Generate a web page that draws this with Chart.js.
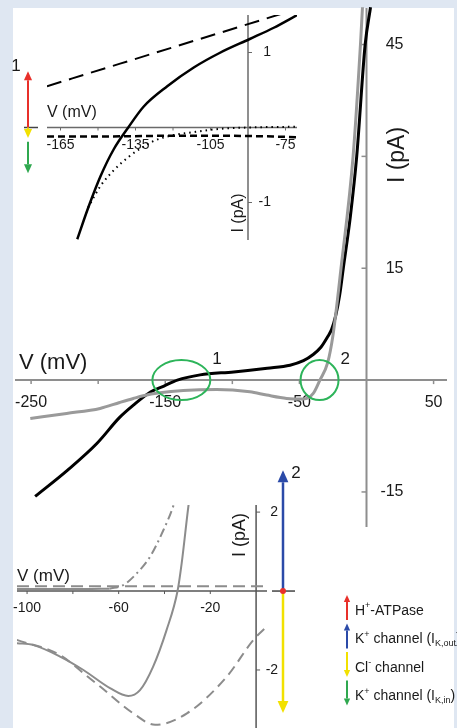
<html>
<head>
  <meta name="viewport" content="width=device-width, initial-scale=1">
  <script type="text/javascript" src="https://cdn.jsdelivr.net/npm/chart.js@4/dist/chart.umd.min.js"></script>
  <style>
    body { margin: 0; background: #dfe7f2; }
    #wrap { position: relative; width: 457px; height: 728px; overflow: hidden; }
    #panel { position: absolute; left: 13px; top: 8px; width: 441px; height: 720px; background: #fff; }
    canvas { position: absolute; left: 0; top: 0; }
  </style>
</head>
<body>
<div id="wrap">
  <div id="panel"></div>
  <canvas id="cMain" width="457" height="728"></canvas>
  <canvas id="cTop" width="457" height="728"></canvas>
  <canvas id="cBot" width="457" height="728"></canvas>
</div>

<script type="text/javascript">

// ---- main I-V curves ----
mainBlackV = [-247, -223, -201, -184, -174, -161, -151, -141, -124, -99, -74, -57, -47, -40, -34, -29, -26, -23, -20, -17.3, -12, -7.3, -1, 3];
mainBlackI = [-15.6, -12.1, -8.5, -5.0, -3.4, -1.6, -0.8, 0, 0.7, 1.1, 1.6, 2.0, 2.6, 3.4, 4.4, 5.8, 6.8, 8.6, 11.4, 15, 22, 30, 45, 50];
mainGrayV = [-250.6, -223.5, -198.6, -184, -173.8, -166.4, -154, -136.6, -111.7, -86.9, -74.4, -59.5, -47.1, -39.7, -34.7, -29, -25, -19, -10, -4.5, -3];
mainGrayI = [-5.14, -4.47, -3.8, -3.0, -2.46, -2.1, -1.7, -1.39, -1.25, -1.57, -2.01, -2.46, -2.55, -1.79, 0, 2.3, 6.0, 15, 30, 45, 50];
mainVTicks = [-250, -200, -150, -100, -50, 50];
mainVLabels = [-250, -150, -50, 50];
mainITicks = [45, 30, 15, -15];
mainILabels = [45, 15, -15];
circleV = [-138, -35];
circleNames = ["1", "2"];

// ---- top inset (point 1) ----
topDashLongV = [-170.4, -70.4];
topDashLongI = [0.55, 1.58];
topSolidV = [-158.3, -153.7, -149, -143.7, -137.9, -131.7, -122.3, -111.7, -101, -89.3, -79.7, -70.3];
topSolidI = [-1.49, -1.05, -0.65, -0.29, 0, 0.28, 0.55, 0.80, 1.0, 1.18, 1.33, 1.5];
topDashShortV = [-170.4, -150, -120, -100, -80, -70.4];
topDashShortI = [-0.12, -0.12, -0.11, -0.11, -0.12, -0.13];
topDotV = [-154, -149, -143.7, -137.7, -133, -127, -119.7, -113.6, -102, -90, -70.4];
topDotI = [-1.07, -0.78, -0.57, -0.39, -0.28, -0.17, -0.10, -0.07, -0.02, 0.0, 0.01];
topVTicks = [-165, -150, -135, -120, -105, -75];
topVLabels = [-165, -135, -105, -75];
topITicks = [1, -1];
// arrows at point 1: [colour, from, to] in pA
topArrows = [["#e8302a", 0, 0.75], ["#f2e100", 0, -0.14], ["#2fa84f", -0.19, -0.61]];

// ---- bottom inset (point 2) ----
botFlatV = [-104.4, -90, -75, -64];
botFlatI = [0.05, 0.05, 0.05, 0.06];
botDashDotV = [-64, -58, -53.6, -46.3, -40.5, -36, -34];
botDashDotI = [0.06, 0.15, 0.36, 0.87, 1.54, 2.18, 2.6];
botDashFlatV = [-104.4, 5];
botDashFlatI = [0.12, 0.12];
botSolidV = [-104.5, -97.2, -85.6, -75.4, -63.8, -55.8, -50.7, -45, -39.1, -34.3, -32.5, -29.5, -28.5];
botSolidI = [-1.32, -1.37, -1.66, -2.0, -2.46, -2.66, -2.51, -1.92, -0.99, 0, 0.70, 2.18, 2.6];
botDashV = [-104.5, -85.6, -75.4, -68.1, -53.6, -44.1, -30.2, -12.8, -1.2, 5.4];
botDashI = [-1.24, -1.62, -2.08, -2.42, -3.1, -3.39, -3.1, -2.17, -1.24, -0.86];
botVTicks = [-100, -80, -60, -40, -20];
botVLabels = [-100, -60, -20];
botITicks = [2, -2];
botArrows = [["#2b4aa8", 0, 3.06], ["#f2e100", 0, -3.09]];

// ---- legend ----
legendColors = ["#e8302a", "#2b4aa8", "#f2e100", "#2fa84f"];
legendUp = [true, true, false, false];
legendText = [
  [["H"], ["+", "sup"], ["-ATPase"]],
  [["K"], ["+", "sup"], [" channel (I"], ["K,out", "sub"], [")"]],
  [["Cl"], ["-", "sup"], [" channel"]],
  [["K"], ["+", "sup"], [" channel (I"], ["K,in", "sub"], [")"]]
];

FONT = 'Arial, "Liberation Sans", Helvetica, sans-serif';
TXT = "#1a1a1a";

function pts(xs, ys) {
  return xs.map((x, i) => ({x: x, y: ys[i]}));
}

function line(xs, ys, color, width, dash) {
  return {
    data: pts(xs, ys),
    showLine: true,
    borderColor: color,
    borderWidth: width,
    borderDash: dash || [],
    cubicInterpolationMode: 'monotone',
    pointRadius: 0,
    fill: false
  };
}

function txt(ctx, s, x, y, size, align, rot) {
  ctx.save();
  ctx.fillStyle = TXT;
  ctx.font = size + "px " + FONT;
  ctx.textAlign = align || "center";
  ctx.textBaseline = "middle";
  ctx.translate(x, y);
  if (rot) ctx.rotate(rot);
  ctx.fillText(s, 0, 0);
  ctx.restore();
}

function arrow(ctx, x, y1, y2, color, w, head) {
  var dir = y2 < y1 ? -1 : 1;
  ctx.save();
  ctx.strokeStyle = color;
  ctx.fillStyle = color;
  ctx.lineWidth = w;
  ctx.beginPath();
  ctx.moveTo(x, y1);
  ctx.lineTo(x, y2 - dir * head);
  ctx.stroke();
  ctx.beginPath();
  ctx.moveTo(x, y2);
  ctx.lineTo(x - head * 0.45, y2 - dir * head);
  ctx.lineTo(x + head * 0.45, y2 - dir * head);
  ctx.closePath();
  ctx.fill();
  ctx.restore();
}

function hline(ctx, x1, x2, y, color, w) {
  ctx.save();
  ctx.strokeStyle = color; ctx.lineWidth = w;
  ctx.beginPath(); ctx.moveTo(x1, y); ctx.lineTo(x2, y); ctx.stroke();
  ctx.restore();
}
function vline(ctx, x, y1, y2, color, w) {
  ctx.save();
  ctx.strokeStyle = color; ctx.lineWidth = w;
  ctx.beginPath(); ctx.moveTo(x, y1); ctx.lineTo(x, y2); ctx.stroke();
  ctx.restore();
}

function makeChart(id, xmin, xmax, ymin, ymax, pad, datasets, plugin) {
  return new Chart(document.getElementById(id), {
    type: 'scatter',
    data: {datasets: datasets},
    options: {
      responsive: false,
      animation: false,
      layout: {padding: pad},
      plugins: {legend: {display: false}, tooltip: {enabled: false}},
      scales: {
        x: {type: 'linear', min: xmin, max: xmax, display: false},
        y: {type: 'linear', min: ymin, max: ymax, display: false}
      }
    },
    plugins: [plugin]
  });
}

// main axes, labels, circles
mainAxes = {
  id: 'mainAxes',
  beforeDatasetsDraw(chart) {
    var ctx = chart.ctx, a = chart.chartArea, xs = chart.scales.x, ys = chart.scales.y;
    var y0 = ys.getPixelForValue(0), x0 = xs.getPixelForValue(0);
    var col = "#8e8e8e";
    hline(ctx, a.left, a.right, y0, col, 2);
    vline(ctx, x0, a.top + 3, a.bottom, col, 2);
    mainVTicks.forEach(v => vline(ctx, xs.getPixelForValue(v), y0, y0 + 4, col, 1.5));
    mainVLabels.forEach(v => txt(ctx, String(v), xs.getPixelForValue(v), y0 + 22, 16));
    mainITicks.forEach(v => hline(ctx, x0 - 5, x0, ys.getPixelForValue(v), col, 1.5));
    mainILabels.forEach(v => txt(ctx, String(v), x0 + 37, ys.getPixelForValue(v), 16, "right"));
    txt(ctx, "V (mV)", 19, y0 - 17, 22, "left");
    txt(ctx, "I (pA)", 398, 155, 23, "center", -Math.PI / 2);
  },
  afterDatasetsDraw(chart) {
    var ctx = chart.ctx, xs = chart.scales.x, ys = chart.scales.y;
    var y0 = ys.getPixelForValue(0);
    var rx = [29, 19];
    ctx.save();
    ctx.strokeStyle = "#2db45a";
    ctx.lineWidth = 2;
    circleV.forEach((v, i) => {
      var cx = xs.getPixelForValue(v);
      ctx.beginPath();
      ctx.ellipse(cx, y0, rx[i], 20, 0, 0, Math.PI * 2);
      ctx.stroke();
      txt(ctx, circleNames[i], cx + rx[i] + 2, y0 - 21, 17, "left");
    });
    ctx.restore();
  }
};

makeChart('cMain', -262, 60, -19.7, 50.3, {left: 15, right: 10, top: 5, bottom: 201}, [
  line(mainGrayV, mainGrayI, "#9a9a9a", 3),
  line(mainBlackV, mainBlackI, "#000000", 3)
], mainAxes);

// top inset
topAxes = {
  id: 'topAxes',
  beforeDatasetsDraw(chart) {
    var ctx = chart.ctx, a = chart.chartArea, xs = chart.scales.x, ys = chart.scales.y;
    var y0 = ys.getPixelForValue(0), x0 = xs.getPixelForValue(-90);
    var col = "#6a6a6a";
    hline(ctx, a.left, a.right, y0, col, 1.5);
    vline(ctx, x0, a.top, a.bottom, col, 1.5);
    topVTicks.forEach(v => vline(ctx, xs.getPixelForValue(v), y0, y0 + 3, col, 1));
    topVLabels.forEach(v => txt(ctx, String(v), xs.getPixelForValue(v), y0 + 18, 14));
    topITicks.forEach(v => hline(ctx, x0, x0 + 4, ys.getPixelForValue(v), col, 1));
    topITicks.forEach(v => txt(ctx, String(v), x0 + 23, ys.getPixelForValue(v), 14, "right"));
    txt(ctx, "V (mV)", a.left, y0 - 15, 16, "left");
    txt(ctx, "I (pA)", x0 - 9, 213, 16, "center", -Math.PI / 2);
    // arrows for point 1
    var ax = 28;
    hline(ctx, ax - 4, ax + 10, y0, "#444", 1.5);
    topArrows.forEach(r => arrow(ctx, ax, ys.getPixelForValue(r[1]), ys.getPixelForValue(r[2]), r[0], 2, 9));
    txt(ctx, "1", 16, 66, 17, "center");
  }
};

makeChart('cTop', -170.4, -70.4, -1.5, 1.5, {left: 47, right: 160, top: 15, bottom: 488}, [
  line(topDashLongV, topDashLongI, "#000", 2, [15, 8]),
  line(topDashShortV, topDashShortI, "#000", 2.5, [7, 4]),
  line(topDotV, topDotI, "#000", 2, [1.5, 4]),
  line(topSolidV, topSolidI, "#000", 2.5)
], topAxes);

// bottom inset + legend
botAxes = {
  id: 'botAxes',
  beforeDatasetsDraw(chart) {
    var ctx = chart.ctx, a = chart.chartArea, xs = chart.scales.x, ys = chart.scales.y;
    var y0 = ys.getPixelForValue(0), x0 = xs.getPixelForValue(0);
    var col = "#555";
    hline(ctx, a.left, a.right - 1, y0, col, 1.5);
    vline(ctx, x0, a.top, 728, col, 1.5);
    botVTicks.forEach(v => vline(ctx, xs.getPixelForValue(v), y0, y0 + 3, col, 1));
    botVLabels.forEach(v => txt(ctx, String(v), xs.getPixelForValue(v), y0 + 17, 14));
    botITicks.forEach(v => hline(ctx, x0, x0 + 4, ys.getPixelForValue(v), col, 1));
    botITicks.forEach(v => txt(ctx, String(v), x0 + 22, ys.getPixelForValue(v), 14, "right"));
    txt(ctx, "V (mV)", a.left, y0 - 15, 17, "left");
    txt(ctx, "I (pA)", x0 - 16, 535, 18, "center", -Math.PI / 2);
  },
  afterDatasetsDraw(chart) {
    var ctx = chart.ctx, ys = chart.scales.y;
    var y0 = ys.getPixelForValue(0);
    var ax = 283;
    hline(ctx, 272, 295, y0, "#444", 1.5);
    botArrows.forEach(r => arrow(ctx, ax, ys.getPixelForValue(r[1]), ys.getPixelForValue(r[2]), r[0], 2.5, 12));
    ctx.save();
    ctx.fillStyle = "#e8302a";
    ctx.beginPath(); ctx.arc(ax, y0, 3, 0, Math.PI * 2); ctx.fill();
    ctx.restore();
    txt(ctx, "2", 296, 473, 17, "center");
    // legend
    var lx = 347, ly = 595, step = 28.5;
    legendText.forEach((parts, i) => {
      var top = ly + i * step, bot = top + 25;
      if (legendUp[i]) arrow(ctx, lx, bot, top, legendColors[i], 2, 7);
      else arrow(ctx, lx, top, bot, legendColors[i], 2, 7);
      var x = lx + 8, y = top + 16;
      ctx.save();
      ctx.fillStyle = TXT;
      ctx.textBaseline = "middle";
      ctx.textAlign = "left";
      parts.forEach(p => {
        var size = p[1] ? 9 : 14, dy = p[1] === "sup" ? -5 : (p[1] === "sub" ? 4 : 0);
        ctx.font = size + "px " + FONT;
        ctx.fillText(p[0], x, y + dy);
        x += ctx.measureText(p[0]).width;
      });
      ctx.restore();
    });
  }
};

makeChart('cBot', -104.4, 5.2, -3.47, 2.18, {left: 17, right: 189, top: 505, bottom: 0}, [
  line(botFlatV, botFlatI, "#8c8c8c", 2),
  line(botDashDotV, botDashDotI, "#8c8c8c", 2, [9, 4, 2, 4]),
  line(botDashFlatV, botDashFlatI, "#8c8c8c", 2, [12, 6]),
  line(botSolidV, botSolidI, "#8c8c8c", 2),
  line(botDashV, botDashI, "#8c8c8c", 2, [10, 6])
], botAxes);

</script>
</body>
</html>
